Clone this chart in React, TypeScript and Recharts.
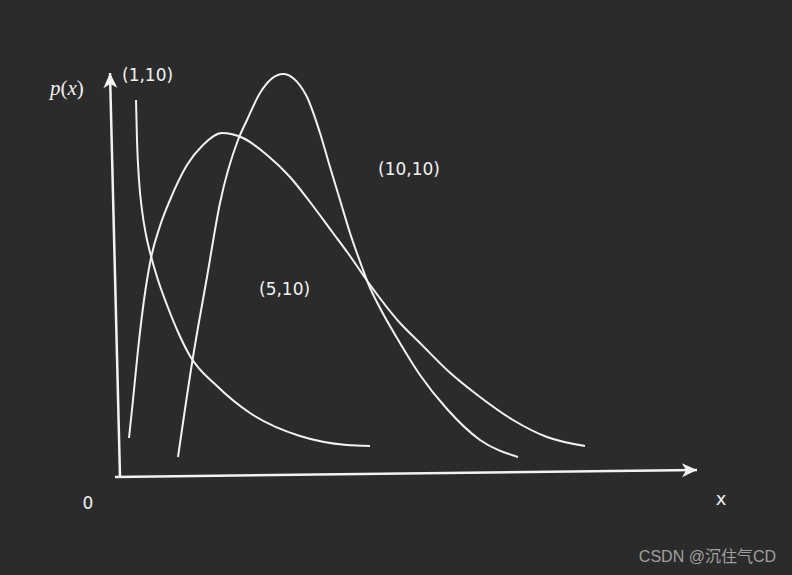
import { LineChart, Line, XAxis, YAxis } from "recharts";

// units: 1 = 100px in the original sketch, origin at the axes' corner
const beta_1_10 = [
  { x: 0.18, y: 3.77 }, { x: 0.19, y: 3.37 }, { x: 0.21, y: 2.97 }, { x: 0.24, y: 2.67 },
  { x: 0.28, y: 2.42 }, { x: 0.33, y: 2.21 }, { x: 0.4, y: 1.97 }, { x: 0.49, y: 1.72 },
  { x: 0.6, y: 1.45 }, { x: 0.72, y: 1.21 }, { x: 0.99, y: 0.91 }, { x: 1.32, y: 0.64 },
  { x: 1.82, y: 0.41 }, { x: 2.29, y: 0.32 }, { x: 2.52, y: 0.31 },
];

const beta_5_10 = [
  { x: 0.11, y: 0.39 }, { x: 0.15, y: 0.77 }, { x: 0.2, y: 1.27 }, { x: 0.26, y: 1.77 },
  { x: 0.33, y: 2.19 }, { x: 0.42, y: 2.51 }, { x: 0.52, y: 2.77 }, { x: 0.69, y: 3.12 },
  { x: 0.85, y: 3.32 }, { x: 1.04, y: 3.44 }, { x: 1.25, y: 3.39 }, { x: 1.49, y: 3.22 },
  { x: 1.72, y: 3.0 }, { x: 1.92, y: 2.75 }, { x: 2.15, y: 2.44 }, { x: 2.32, y: 2.21 },
  { x: 2.5, y: 1.95 }, { x: 2.82, y: 1.54 }, { x: 3.02, y: 1.34 }, { x: 3.29, y: 1.07 },
  { x: 3.62, y: 0.8 }, { x: 3.95, y: 0.57 }, { x: 4.29, y: 0.4 }, { x: 4.67, y: 0.31 },
];

const beta_10_10 = [
  { x: 0.6, y: 0.2 }, { x: 0.75, y: 1.2 }, { x: 0.89, y: 2.0 }, { x: 1.02, y: 2.74 },
  { x: 1.2, y: 3.37 }, { x: 1.29, y: 3.57 }, { x: 1.42, y: 3.84 }, { x: 1.65, y: 4.03 },
  { x: 1.88, y: 3.82 }, { x: 2.02, y: 3.44 }, { x: 2.12, y: 3.1 }, { x: 2.22, y: 2.77 },
  { x: 2.32, y: 2.44 }, { x: 2.44, y: 2.1 }, { x: 2.5, y: 1.94 }, { x: 2.62, y: 1.69 },
  { x: 2.79, y: 1.39 }, { x: 3.02, y: 1.02 }, { x: 3.29, y: 0.68 }, { x: 3.62, y: 0.37 },
  { x: 4.0, y: 0.2 },
];

const axisY = [{ x: 0.02, y: 0 }, { x: -0.08, y: 4.04 }];
const axisX = [{ x: -0.03, y: 0 }, { x: 5.79, y: 0.07 }];

const curveLabels = ["(1,10)", "(5,10)", "(10,10)"];

const W = 792;
const H = 575;
const BG = "#2b2b2b";
const INK = "#f2f2f2";

const arrowHead = (angle: number) => (props: any) => {
  const { cx, cy, index } = props;
  if (index !== 1) return <g key={`pt-${index}`} />;
  return (
    <path
      key="arrow"
      d="M0,0 L-15,-7 L-11,0 L-15,7 Z"
      transform={`translate(${cx},${cy}) rotate(${angle})`}
      fill={INK}
    />
  );
};

export default function App() {
  const sans = "'DejaVu Sans', sans-serif";
  return (
    <div style={{ position: "absolute", left: 0, top: 0, width: W, height: H, background: BG }}>
      <LineChart width={W} height={H} margin={{ top: 0, right: 0, bottom: 0, left: 0 }}>
        <XAxis type="number" dataKey="x" domain={[-1.18, 6.74]} hide allowDataOverflow />
        <YAxis type="number" dataKey="y" domain={[-0.98, 4.77]} hide allowDataOverflow />
        <Line data={axisY} dataKey="y" type="linear" stroke={INK} strokeWidth={2.5}
          dot={arrowHead(-91.4)} activeDot={false} isAnimationActive={false} />
        <Line data={axisX} dataKey="y" type="linear" stroke={INK} strokeWidth={2.5}
          dot={arrowHead(-0.7)} activeDot={false} isAnimationActive={false} />
        <Line data={beta_1_10} dataKey="y" type="monotone" stroke={INK} strokeWidth={2}
          dot={false} activeDot={false} isAnimationActive={false} />
        <Line data={beta_5_10} dataKey="y" type="monotone" stroke={INK} strokeWidth={2}
          dot={false} activeDot={false} isAnimationActive={false} />
        <Line data={beta_10_10} dataKey="y" type="monotone" stroke={INK} strokeWidth={2}
          dot={false} activeDot={false} isAnimationActive={false} />
      </LineChart>
      <svg width={W} height={H} style={{ position: "absolute", left: 0, top: 0, pointerEvents: "none" }}>
        <text x={50} y={95} fill={INK} fontSize={21} fontFamily="'Liberation Serif', serif">
          <tspan fontStyle="italic">p</tspan>(<tspan fontStyle="italic">x</tspan>)
        </text>
        <text x={122} y={81} fill={INK} fontSize={17} fontFamily={sans}>{curveLabels[0]}</text>
        <text x={259} y={295} fill={INK} fontSize={17} fontFamily={sans}>{curveLabels[1]}</text>
        <text x={378} y={175} fill={INK} fontSize={17} fontFamily={sans}>{curveLabels[2]}</text>
        <text x={88} y={509} fill={INK} fontSize={17} fontFamily={sans} textAnchor="middle">0</text>
        <text x={721} y={505} fill={INK} fontSize={18} fontFamily={sans} textAnchor="middle">x</text>
        <text x={776} y={562} fill="#a0a0a0" fontSize={16} textAnchor="end"
          fontFamily="'Liberation Sans', 'Noto Sans CJK SC', sans-serif">CSDN @沉住气CD</text>
      </svg>
    </div>
  );
}
